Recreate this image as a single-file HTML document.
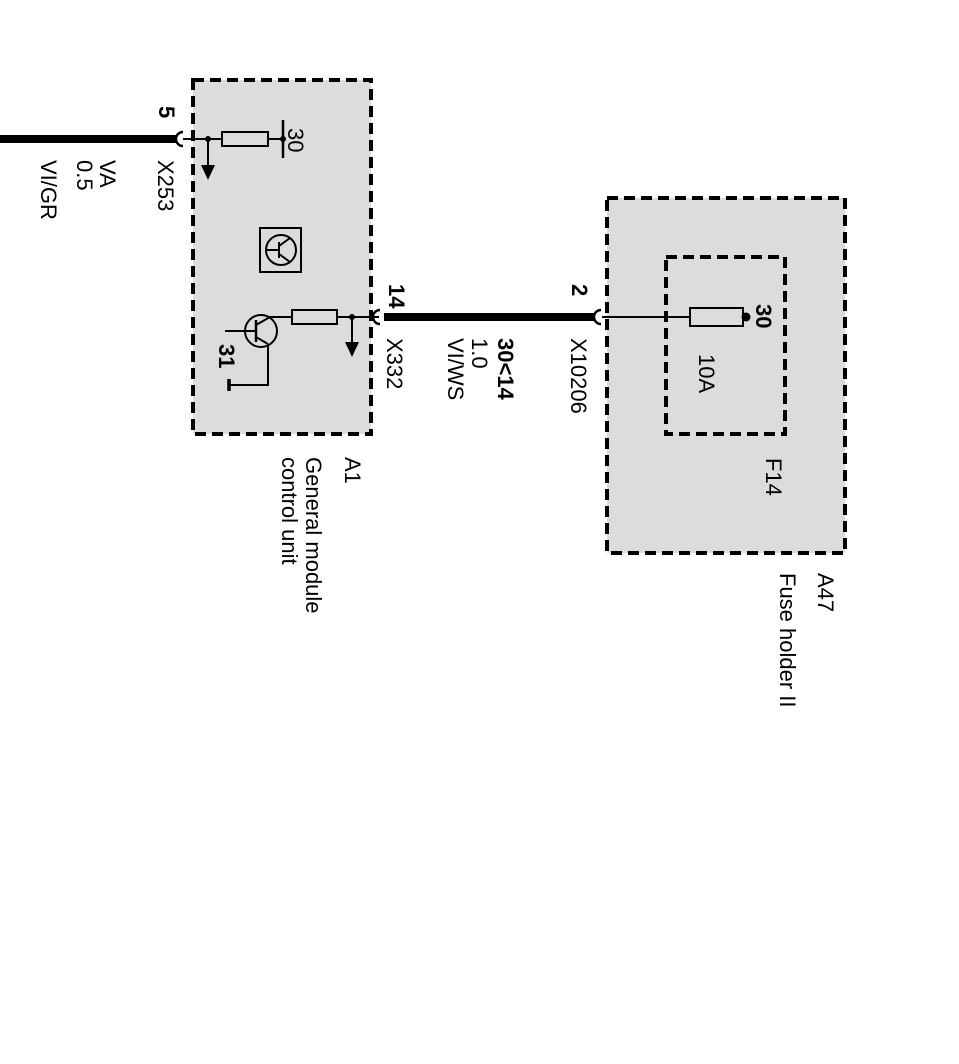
<!DOCTYPE html>
<html><head><style>
html,body{margin:0;padding:0;background:#fff;width:959px;height:1064px;overflow:hidden}
svg{display:block}
text{font-family:"Liberation Sans",Arial,sans-serif;font-size:22px;fill:#000}
</style></head><body>
<svg width="959" height="1064" viewBox="0 0 959 1064">
<!-- A1 box -->
<rect x="193" y="80" width="178" height="354" fill="#dcdcdc" stroke="#000" stroke-width="4" stroke-dasharray="11,6"/>
<!-- A47 box -->
<rect x="607" y="198" width="238" height="355" fill="#dcdcdc" stroke="#000" stroke-width="4" stroke-dasharray="11,6"/>
<rect x="666" y="257" width="119" height="177" fill="none" stroke="#000" stroke-width="4" stroke-dasharray="11,6"/>

<!-- top wire -->
<line x1="0" y1="139" x2="177" y2="139" stroke="#000" stroke-width="8"/>
<path d="M183 132 A7 7 0 0 0 183 146" fill="none" stroke="#000" stroke-width="2.5"/>
<line x1="183" y1="139" x2="283" y2="139" stroke="#000" stroke-width="2"/>
<rect x="222" y="132" width="46" height="14" fill="#dcdcdc" stroke="#000" stroke-width="2"/>
<line x1="283" y1="120" x2="283" y2="158" stroke="#000" stroke-width="2.5"/>
<circle cx="283" cy="139" r="3"/>
<circle cx="208" cy="139" r="3"/>
<line x1="208" y1="139" x2="208" y2="168" stroke="#000" stroke-width="2"/>
<polygon points="201,165 215,165 208,180"/>

<!-- transistor icon -->
<rect x="260" y="228" width="41" height="44" fill="none" stroke="#000" stroke-width="2"/>
<circle cx="281" cy="250" r="15" fill="none" stroke="#000" stroke-width="2"/>
<line x1="266" y1="250" x2="279" y2="250" stroke="#000" stroke-width="2"/>
<line x1="279" y1="242" x2="279" y2="258" stroke="#000" stroke-width="2"/>
<line x1="279" y1="246" x2="290" y2="238" stroke="#000" stroke-width="2"/>
<line x1="279" y1="254" x2="290" y2="262" stroke="#000" stroke-width="2"/>

<!-- bottom wire -->
<line x1="384" y1="317" x2="594" y2="317" stroke="#000" stroke-width="8"/>
<path d="M380 310 A7 7 0 0 0 380 324" fill="none" stroke="#000" stroke-width="2.5"/>
<path d="M601 310 A7 7 0 0 0 601 324" fill="none" stroke="#000" stroke-width="2.5"/>
<line x1="379" y1="317" x2="270" y2="317" stroke="#000" stroke-width="2"/>
<rect x="292" y="310" width="45" height="14" fill="#dcdcdc" stroke="#000" stroke-width="2"/>
<circle cx="352" cy="317" r="3"/>
<line x1="352" y1="317" x2="352" y2="345" stroke="#000" stroke-width="2"/>
<polygon points="345,342 359,342 352,357"/>
<!-- transistor -->
<circle cx="261" cy="331" r="16" fill="none" stroke="#000" stroke-width="2"/>
<line x1="225" y1="331" x2="256" y2="331" stroke="#000" stroke-width="2"/>
<line x1="256" y1="320" x2="256" y2="342" stroke="#000" stroke-width="2.5"/>
<line x1="256" y1="325" x2="270" y2="317" stroke="#000" stroke-width="2"/>
<line x1="256" y1="337" x2="268" y2="344" stroke="#000" stroke-width="2"/>
<polyline points="268,344 268,385 230,385" fill="none" stroke="#000" stroke-width="2"/>
<line x1="229" y1="379" x2="229" y2="391" stroke="#000" stroke-width="3.5"/>

<!-- fuse -->
<line x1="602" y1="317" x2="746" y2="317" stroke="#000" stroke-width="2"/>
<rect x="690" y="308" width="53" height="18" fill="#dcdcdc" stroke="#000" stroke-width="2"/>
<circle cx="746" cy="317" r="4.5"/>

<!-- labels (rotated) -->
<g>
<text transform="translate(159,106) rotate(90)" font-weight="bold">5</text>
<text transform="translate(288,128) rotate(90)">30</text>
<text transform="translate(158,160) rotate(90)">X253</text>
<text transform="translate(100,160) rotate(90)">VA</text>
<text transform="translate(77,160) rotate(90)">0.5</text>
<text transform="translate(41,160) rotate(90)">VI/GR</text>
<text transform="translate(219,344) rotate(90)" font-weight="bold">31</text>
<text transform="translate(389,284) rotate(90)" font-weight="bold">14</text>
<text transform="translate(387,338) rotate(90)">X332</text>
<text transform="translate(498,338) rotate(90)" font-weight="bold">30&lt;14</text>
<text transform="translate(472,338) rotate(90)">1.0</text>
<text transform="translate(448,338) rotate(90)">VI/WS</text>
<text transform="translate(572,284) rotate(90)" font-weight="bold">2</text>
<text transform="translate(571,338) rotate(90)">X10206</text>
<text transform="translate(756,304) rotate(90)" font-weight="bold">30</text>
<text transform="translate(699,354) rotate(90)">10A</text>
<text transform="translate(766,458) rotate(90)">F14</text>
<text transform="translate(345,457) rotate(90)">A1</text>
<text transform="translate(306,457) rotate(90)">General module</text>
<text transform="translate(282,457) rotate(90)">control unit</text>
<text transform="translate(818,573) rotate(90)">A47</text>
<text transform="translate(780,573) rotate(90)">Fuse holder II</text>
</g>
</svg>
</body></html>
